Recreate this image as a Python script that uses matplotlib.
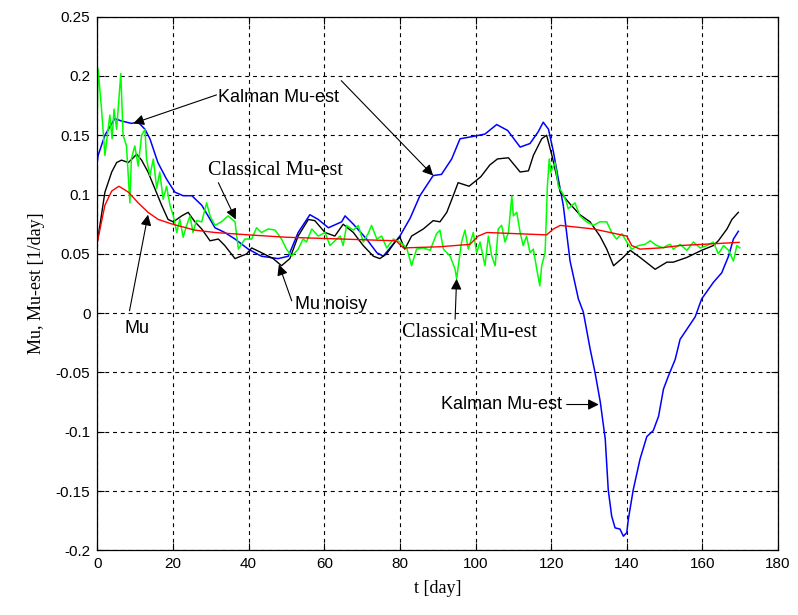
import matplotlib

matplotlib.use("Agg")
import matplotlib.pyplot as plt
import numpy as np

# Mu (red)
MU_T = [0.0, 2.0, 3.8, 5.7, 8.2, 10.8, 13.4, 16.1, 19.9, 25.8, 31.1, 40.0, 50.0, 64.6, 79.0,
        80.9, 90.6, 98.5, 100.7, 103.0, 118.8, 120.6, 122.4, 131.2, 140.0, 141.3, 143.5,
        148.8, 154.1, 169.7]
MU_V = [0.060, 0.091, 0.103, 0.107, 0.102, 0.093, 0.085, 0.079, 0.075, 0.070, 0.068, 0.066,
        0.064, 0.0625, 0.061, 0.055, 0.056, 0.058, 0.065, 0.068, 0.066, 0.071, 0.074, 0.071,
        0.065, 0.057, 0.054, 0.055, 0.057, 0.0597]

# Mu noisy (green)
NOISY_T = [0.0, 0.2, 1.1, 2.0, 3.3, 3.9, 4.4, 5.1, 5.7, 6.2, 6.8, 7.7, 8.6, 9.0, 9.9, 10.8,
           11.7, 12.6, 13.0, 13.9, 14.8, 15.7, 16.5, 17.4, 18.3, 19.2, 20.1, 21.0, 21.8, 22.7,
           23.6, 24.5, 25.3, 26.2, 27.6, 28.9, 29.8, 31.1, 32.8, 34.6, 36.4, 37.3, 39.0, 40.8,
           42.1, 43.4, 45.2, 47.0, 48.7, 50.0, 51.4, 53.1, 54.4, 55.3, 56.7, 58.4, 60.2, 61.5,
           63.3, 64.2, 65.0, 65.9, 67.7, 69.0, 70.3, 71.6, 72.5, 73.9, 75.2, 76.5, 78.3, 80.0,
           81.8, 83.1, 84.4, 86.2, 88.0, 89.7, 90.6, 91.5, 93.3, 94.6, 95.0, 96.3, 97.2, 98.1,
           99.4, 100.3, 101.2, 102.5, 103.4, 104.3, 105.2, 106.0, 106.9, 107.8, 108.7, 109.6,
           110.0, 110.9, 111.8, 112.6, 113.5, 114.4, 115.3, 116.2, 117.0, 117.5, 118.4, 119.0,
           119.5, 119.9, 121.0, 121.9, 123.2, 124.1, 124.5, 126.3, 127.6, 129.4, 131.2, 132.9,
           134.7, 136.0, 137.3, 138.7, 140.0, 141.3, 143.1, 144.8, 146.2, 147.9, 149.7, 150.6,
           151.5, 152.3, 154.1, 155.9, 157.6, 159.4, 161.2, 162.9, 164.2, 165.6, 166.9, 168.2,
           169.1, 169.9]
NOISY_V = [0.172, 0.206, 0.172, 0.133, 0.167, 0.147, 0.172, 0.155, 0.181, 0.202, 0.150, 0.141,
           0.093, 0.130, 0.141, 0.124, 0.150, 0.155, 0.130, 0.116, 0.130, 0.105, 0.119, 0.096,
           0.107, 0.091, 0.082, 0.068, 0.079, 0.064, 0.074, 0.082, 0.068, 0.078, 0.077, 0.093,
           0.082, 0.074, 0.077, 0.082, 0.077, 0.054, 0.0625, 0.0625, 0.072, 0.068, 0.071, 0.070,
           0.0625, 0.054, 0.048, 0.054, 0.0625, 0.060, 0.071, 0.065, 0.068, 0.057, 0.0625, 0.065,
           0.057, 0.074, 0.070, 0.074, 0.060, 0.067, 0.074, 0.0625, 0.065, 0.055, 0.0625, 0.060,
           0.055, 0.040, 0.054, 0.055, 0.053, 0.067, 0.070, 0.054, 0.048, 0.037, 0.029, 0.060,
           0.070, 0.054, 0.068, 0.051, 0.060, 0.040, 0.065, 0.048, 0.040, 0.071, 0.074, 0.060,
           0.068, 0.099, 0.082, 0.085, 0.068, 0.057, 0.065, 0.051, 0.054, 0.037, 0.023, 0.040,
           0.051, 0.107, 0.130, 0.119, 0.127, 0.107, 0.100, 0.093, 0.088, 0.093, 0.082, 0.077,
           0.074, 0.077, 0.077, 0.068, 0.0625, 0.067, 0.060, 0.054, 0.057, 0.058, 0.061, 0.057,
           0.055, 0.057, 0.058, 0.054, 0.058, 0.053, 0.060, 0.055, 0.057, 0.060, 0.050, 0.057,
           0.053, 0.044, 0.057, 0.055]

# Classical Mu-est (black)
CLASSIC_T = [0.0, 2.0, 3.8, 5.1, 6.4, 8.2, 9.5, 10.4, 11.7, 13.4, 15.2, 17.0, 18.7, 20.1, 22.3,
             24.0, 25.8, 27.6, 29.8, 32.0, 33.7, 36.4, 39.5, 40.8, 43.4, 46.5, 48.7, 50.9, 53.1,
             55.8, 57.5, 60.2, 62.8, 65.0, 67.7, 70.3, 73.0, 74.7, 76.5, 78.7, 80.0, 81.3, 83.1,
             86.2, 88.8, 90.6, 92.4, 94.1, 95.4, 98.3, 101.4, 103.8, 105.8, 108.7, 111.8, 114.0,
             115.3, 117.5, 118.8, 120.2, 122.4, 125.0, 127.6, 130.3, 132.9, 134.7, 136.5, 138.7,
             140.9, 143.5, 147.5, 150.6, 152.3, 155.9, 159.8, 162.9, 164.2, 166.5, 167.8, 169.5]
CLASSIC_V = [0.060, 0.102, 0.119, 0.127, 0.129, 0.127, 0.131, 0.134, 0.129, 0.119, 0.105, 0.091,
             0.079, 0.077, 0.082, 0.085, 0.077, 0.071, 0.061, 0.0625, 0.057, 0.046, 0.050, 0.055,
             0.051, 0.046, 0.040, 0.046, 0.065, 0.079, 0.078, 0.068, 0.065, 0.075, 0.068, 0.057,
             0.048, 0.046, 0.050, 0.060, 0.064, 0.054, 0.065, 0.071, 0.078, 0.077, 0.085, 0.099,
             0.110, 0.107, 0.115, 0.125, 0.130, 0.131, 0.119, 0.120, 0.133, 0.147, 0.150, 0.133,
             0.102, 0.092, 0.083, 0.077, 0.065, 0.054, 0.040, 0.046, 0.053, 0.047, 0.037, 0.043,
             0.043, 0.047, 0.053, 0.057, 0.061, 0.071, 0.079, 0.085]

# Kalman Mu-est (blue)
KALMAN_T = [0.0, 0.2, 2.0, 4.6, 6.4, 9.0, 10.8, 12.6, 13.9, 16.0, 18.3, 20.5, 22.7, 25.0, 27.6,
            30.2, 31.1, 33.7, 36.4, 39.9, 43.4, 47.8, 50.5, 53.1, 56.2, 58.4, 61.1, 64.6, 65.5,
            67.7, 71.2, 73.9, 75.6, 77.4, 80.0, 82.7, 85.3, 88.8, 91.0, 93.7, 95.9, 99.4, 102.5,
            105.6, 108.5, 111.8, 114.4, 116.6, 117.9, 119.3, 120.6, 121.9, 123.2, 125.0, 127.2,
            128.5, 130.3, 131.6, 133.0, 134.3, 135.1, 136.0, 136.9, 138.2, 139.1, 140.0, 140.4,
            141.7, 143.5, 145.3, 147.0, 148.4, 149.7, 151.0, 152.8, 154.1, 155.9, 158.1, 159.8,
            162.9, 165.1, 166.9, 168.2, 169.5]
KALMAN_V = [0.128, 0.133, 0.150, 0.164, 0.162, 0.160, 0.161, 0.155, 0.147, 0.127, 0.113, 0.102,
            0.099, 0.099, 0.091, 0.077, 0.072, 0.068, 0.0625, 0.054, 0.048, 0.046, 0.048, 0.068,
            0.083, 0.079, 0.072, 0.077, 0.082, 0.075, 0.0625, 0.051, 0.048, 0.055, 0.065, 0.080,
            0.099, 0.116, 0.117, 0.130, 0.147, 0.149, 0.151, 0.159, 0.154, 0.140, 0.143, 0.153,
            0.161, 0.155, 0.136, 0.113, 0.091, 0.044, 0.012, 0.001, -0.030, -0.050, -0.075,
            -0.106, -0.149, -0.171, -0.181, -0.182, -0.188, -0.185, -0.174, -0.149, -0.123,
            -0.104, -0.099, -0.087, -0.064, -0.053, -0.039, -0.022, -0.0135, -0.003, 0.012,
            0.026, 0.034, 0.048, 0.0625, 0.069]

X_TICKS = [0, 20, 40, 60, 80, 100, 120, 140, 160, 180]
Y_TICKS = [-0.2, -0.15, -0.1, -0.05, 0, 0.05, 0.1, 0.15, 0.2, 0.25]
Y_TICK_LABELS = ["-0.2", "-0.15", "-0.1", "-0.05", "0", "0.05", "0.1", "0.15", "0.2", "0.25"]

SANS = ["Liberation Sans", "DejaVu Sans"]
SERIF = ["Liberation Serif", "DejaVu Serif"]


def arrow(ax, tail, head):
    ax.annotate(
        "",
        xy=head,
        xytext=tail,
        arrowprops=dict(arrowstyle="-|>", color="black", lw=0.8,
                        mutation_scale=16, shrinkA=0, shrinkB=0),
    )


def main() -> None:
    fig = plt.figure(figsize=(7.98, 6.15), dpi=100)
    ax = fig.add_axes([0.122, 0.105, 0.853, 0.868])

    ax.plot(KALMAN_T, KALMAN_V, color="#0000ff", linewidth=1.1)
    ax.plot(CLASSIC_T, CLASSIC_V, color="black", linewidth=1.0)
    ax.plot(NOISY_T, NOISY_V, color="#00ff00", linewidth=1.1)
    ax.plot(MU_T, MU_V, color="#ff0000", linewidth=1.0)

    ax.set_xlim(0, 180)
    ax.set_ylim(-0.2, 0.25)
    ax.set_xticks(X_TICKS)
    ax.set_xticklabels([str(x) for x in X_TICKS], family=SANS, fontsize=11)
    ax.set_yticks(Y_TICKS)
    ax.set_yticklabels(Y_TICK_LABELS, family=SANS, fontsize=11)
    ax.tick_params(direction="in", top=True, right=True, length=5, width=0.8, pad=5)
    ax.grid(True, color="black", linestyle=(0, (3.5, 3.5)), linewidth=0.8)
    for spine in ax.spines.values():
        spine.set_linewidth(0.9)

    ax.set_xlabel("t [day]", family=SERIF, fontsize=13, labelpad=6)
    ax.set_ylabel("Mu, Mu-est [1/day]", family=SERIF, fontsize=13, labelpad=8)

    # annotations
    ax.text(31.9, 0.182, "Kalman Mu-est", family=SANS, fontsize=13, va="center", ha="left")
    arrow(ax, (31.5, 0.184), (9.5, 0.160))
    arrow(ax, (64.5, 0.196), (88.8, 0.116))

    ax.text(29.2, 0.120, "Classical Mu-est", family=SERIF, fontsize=14.5, va="center", ha="left")
    arrow(ax, (32.0, 0.110), (36.6, 0.079))

    ax.text(10.5, -0.013, "Mu", family=SANS, fontsize=13, va="center", ha="center")
    arrow(ax, (8.5, 0.002), (13.4, 0.083))

    ax.text(52.2, 0.0076, "Mu noisy", family=SANS, fontsize=13, va="center", ha="left")
    arrow(ax, (51.4, 0.0104), (48.0, 0.041))

    ax.text(80.5, -0.016, "Classical Mu-est", family=SERIF, fontsize=14.5, va="center", ha="left")
    arrow(ax, (94.6, -0.005), (95.0, 0.029))

    ax.text(122.8, -0.077, "Kalman Mu-est", family=SANS, fontsize=13, va="center", ha="right")
    arrow(ax, (124.1, -0.077), (132.6, -0.077))

    fig.savefig("out.png", dpi=100, facecolor="white")
    plt.close(fig)


if __name__ == "__main__":
    main()
